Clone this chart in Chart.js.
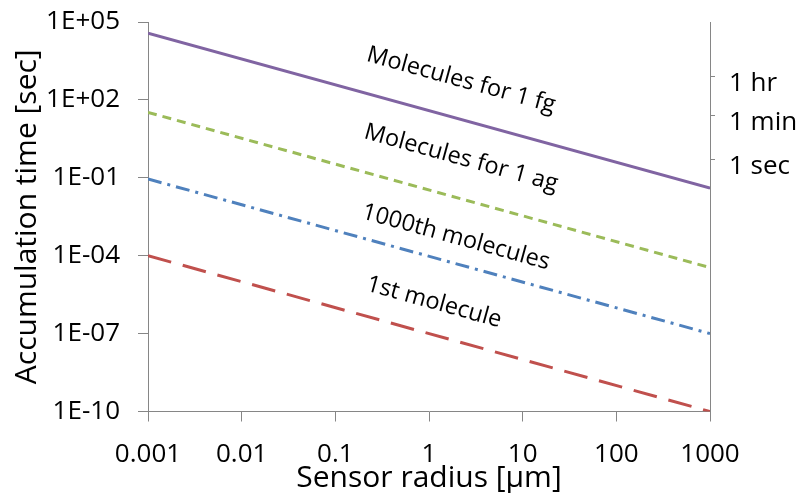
<!DOCTYPE html>
<html><head><meta charset="utf-8">
<script src="https://cdn.jsdelivr.net/npm/chart.js@4"></script>
<style>html,body{margin:0;padding:0;background:#fff}#c{display:block}</style>
</head><body>
<canvas id="c" width="811" height="493"></canvas>
<script>
// ---- data ----
const radius = [0.001, 1000];                 // Sensor radius [µm]
const fg1 = [3.7e4, 0.04];                    // Molecules for 1 fg
const ag1 = [33, 3.5e-5];                     // Molecules for 1 ag
const th1000 = [0.09, 1e-7];                  // 1000th molecules
const first = [1e-4, 1e-10];                  // 1st molecule
const seriesNames = ['Molecules for 1 fg', 'Molecules for 1 ag', '1000th molecules', '1st molecule'];
const xTicks = [0.001, 0.01, 0.1, 1, 10, 100, 1000];
const xTickLabels = ['0.001', '0.01', '0.1', '1', '10', '100', '1000'];
const yTicks = [1e5, 1e2, 1e-1, 1e-4, 1e-7, 1e-10];
const yTickLabels = ['1E+05', '1E+02', '1E-01', '1E-04', '1E-07', '1E-10'];
const timeTicks = [826, 26, 0.52];
const timeLabels = ['1 hr', '1 min', '1 sec'];
const labelX = [2.2, 2.2, 1.94, 1.13];
const labelY = [575, 0.57, 5.1e-4, 1.6e-6];

const colors = ['#8064A2', '#9BBB59', '#4F81BD', '#C0504D'];
const dashes = [[], [9, 6], [14, 6, 3, 6], [24, 12]];
const sets = [fg1, ag1, th1000, first];
const axisGray = '#868686';
const FONT = '"Open Sans", "Noto Sans", sans-serif';

const datasets = sets.map((s, i) => ({
  label: seriesNames[i],
  data: radius.map((r, j) => ({x: r, y: s[j]})),
  borderColor: colors[i],
  backgroundColor: colors[i],
  borderWidth: 3,
  borderDash: dashes[i],
  pointRadius: 0,
  showLine: true,
  fill: false,
  tension: 0
}));

const labelPlugin = {
  id: 'lineLabels',
  afterDatasetsDraw(chart) {
    const {ctx, scales: {x, y}} = chart;
    ctx.save();
    ctx.font = '23.5px ' + FONT;
    ctx.fillStyle = '#000';
    ctx.textAlign = 'center';
    ctx.textBaseline = 'middle';
    seriesNames.forEach((name, i) => {
      const d = sets[i];
      const x0 = x.getPixelForValue(radius[0]), x1 = x.getPixelForValue(radius[1]);
      const y0 = y.getPixelForValue(d[0]), y1 = y.getPixelForValue(d[1]);
      const ang = Math.atan2(y1 - y0, x1 - x0);
      ctx.save();
      ctx.translate(x.getPixelForValue(labelX[i]), y.getPixelForValue(labelY[i]));
      ctx.rotate(ang);
      ctx.fillText(name, 0, 0);
      ctx.restore();
    });
    ctx.restore();
  }
};

const noPad = a => { a.paddingTop = 0; a.paddingBottom = 0; a.paddingLeft = 0; a.paddingRight = 0; };

new Chart(document.getElementById('c'), {
  type: 'scatter',
  data: {datasets},
  plugins: [labelPlugin],
  options: {
    responsive: false,
    animation: false,
    layout: {padding: {top: 22, left: 0, right: 0, bottom: 0}, autoPadding: false},
    plugins: {legend: {display: false}, tooltip: {enabled: false}},
    scales: {
      x: {
        type: 'logarithmic', position: 'bottom', min: 0.001, max: 1000,
        afterBuildTicks: a => { a.ticks = xTicks.map(v => ({value: v})); },
        afterFit: a => { a.height = 81.5; noPad(a); },
        ticks: {callback: (v, i) => xTickLabels[i], color: '#000', font: {family: FONT, size: 26}, padding: 17, maxRotation: 0, autoSkip: false},
        grid: {drawOnChartArea: false, tickLength: 10, color: axisGray},
        border: {color: axisGray, width: 1},
        title: {display: true, text: 'Sensor radius [μm]', color: '#000', font: {family: FONT, size: 30, lineHeight: 1}, padding: {top: 0, bottom: 0}}
      },
      y: {
        type: 'logarithmic', position: 'left', min: 1e-10, max: 1e5,
        afterBuildTicks: a => { a.ticks = yTicks.map(v => ({value: v})); },
        afterFit: a => { a.width = 148; noPad(a); },
        ticks: {callback: (v, i) => yTickLabels[i], color: '#000', font: {family: FONT, size: 26}, padding: 18, autoSkip: false},
        grid: {drawOnChartArea: false, tickLength: 10, color: axisGray},
        border: {color: axisGray, width: 1},
        title: {display: true, text: 'Accumulation time [sec]', color: '#000', font: {family: FONT, size: 30, lineHeight: 1}, padding: {top: 12, bottom: 0}}
      },
      y2: {
        type: 'logarithmic', position: 'right', min: 1e-10, max: 1e5,
        afterBuildTicks: a => { a.ticks = timeTicks.map(v => ({value: v})); },
        afterFit: a => { a.width = 101; noPad(a); },
        ticks: {callback: (v, i) => timeLabels[i], color: '#000', font: {family: FONT, size: 26}, padding: 14, labelOffset: 7.5, autoSkip: false},
        grid: {drawOnChartArea: false, tickLength: 5, color: axisGray},
        border: {color: axisGray, width: 1}
      }
    }
  }
});
</script>
</body></html>
